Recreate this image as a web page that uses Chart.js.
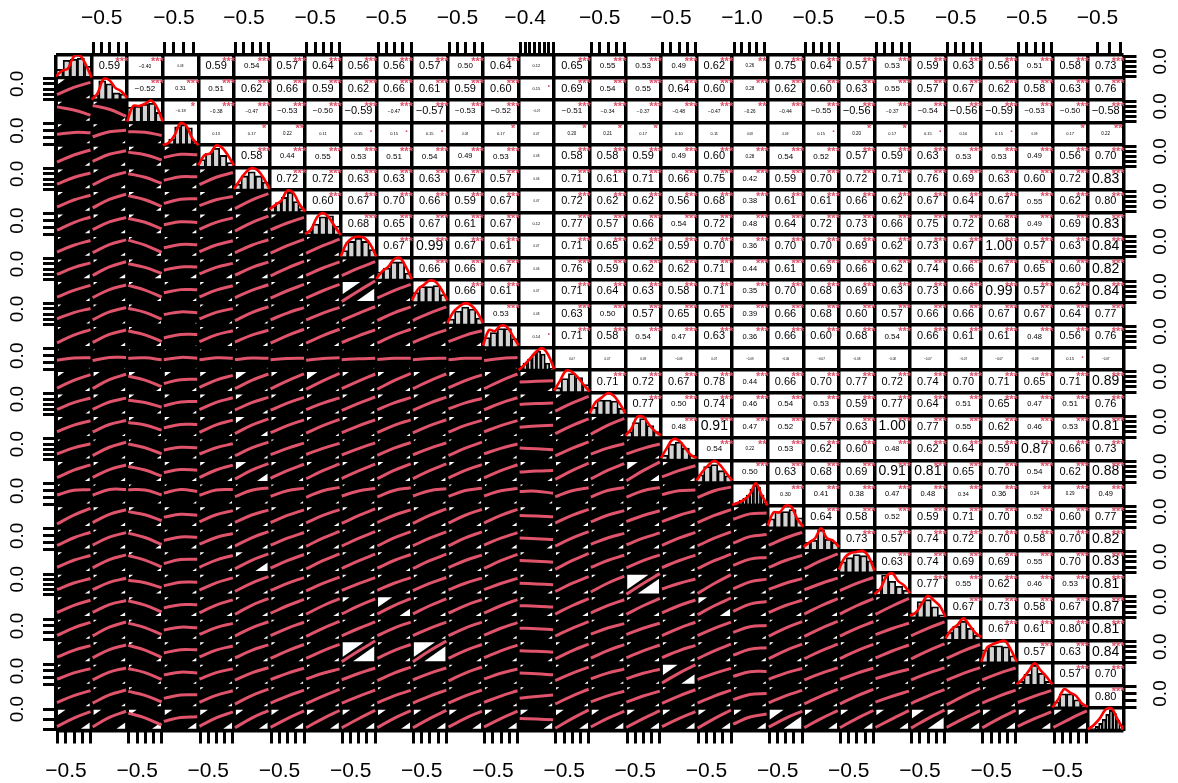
<!DOCTYPE html>
<html lang="en">
<head>
    <meta charset="UTF-8">
    <title>Correlation matrix</title>
    <script src="https://cdn.jsdelivr.net/npm/chart.js"></script>
    <style>
        html, body { margin: 0; background: #fff; }
        canvas { display: block; filter: blur(.3px); }
    </style>
</head>
<body>
    <canvas id="pairs" width="1178" height="783"></canvas>

    <script>
        const varCount = 30;

        // correlations read off the upper triangle, row by row (first value is the cell right of the diagonal)
        // the tiniest ones are unreadable in the picture, so those are estimates
        const corrRows = [
            [.59,-.40,.08,.59,.54,.57,.64,.56,.56,.57,.50,.64,.12,.65,.55,.53,.49,.62,.26,.75,.64,.57,.53,.59,.63,.56,.51,.58,.73],
            [-.52,.31,.51,.62,.66,.59,.62,.66,.61,.59,.60,.15,.69,.54,.55,.64,.60,.28,.62,.60,.63,.55,.57,.67,.62,.58,.63,.76],
            [-.18,-.38,-.47,-.53,-.50,-.59,-.47,-.57,-.53,-.52,-.07,-.51,-.34,-.37,-.48,-.47,-.26,-.44,-.55,-.56,-.37,-.54,-.56,-.59,-.53,-.50,-.58],
            [.13,.17,.22,.11,.15,.15,.15,.08,.17,.07,.20,.21,.17,.10,.11,.08,.09,.15,.20,.17,.15,.10,.15,.09,.17,.22],
            [.58,.44,.55,.53,.51,.54,.49,.53,.08,.58,.58,.59,.49,.60,.28,.54,.52,.57,.59,.63,.53,.53,.49,.56,.70],
            [.72,.72,.63,.63,.63,.67,.57,.06,.71,.61,.71,.66,.75,.42,.59,.70,.72,.71,.76,.69,.63,.60,.72,.83],
            [.60,.67,.70,.66,.59,.67,.07,.72,.62,.62,.56,.68,.38,.61,.61,.66,.62,.67,.64,.67,.55,.62,.80],
            [.68,.65,.67,.61,.67,.12,.77,.57,.66,.54,.72,.48,.64,.72,.73,.66,.75,.72,.68,.49,.69,.83],
            [.67,.99,.67,.61,.07,.71,.65,.62,.59,.70,.36,.70,.70,.69,.62,.73,.67,1.00,.57,.63,.84],
            [.66,.66,.67,.06,.76,.59,.62,.62,.71,.44,.61,.69,.66,.62,.74,.66,.67,.65,.60,.82],
            [.66,.61,.07,.71,.64,.63,.58,.71,.35,.70,.68,.69,.63,.73,.66,.99,.57,.62,.84],
            [.53,.08,.63,.50,.57,.65,.65,.39,.66,.68,.60,.57,.66,.66,.67,.67,.64,.77],
            [.14,.71,.58,.54,.47,.63,.36,.66,.60,.68,.54,.66,.61,.61,.48,.56,.76],
            [.07,.07,.09,-.09,.07,-.09,-.06,-.07,-.08,-.08,-.07,-.07,-.07,-.09,.15,-.07],
            [.71,.72,.67,.78,.44,.66,.70,.77,.72,.74,.70,.71,.65,.71,.89],
            [.77,.50,.74,.46,.54,.53,.59,.77,.64,.51,.65,.47,.51,.76],
            [.48,.91,.47,.52,.57,.63,1.00,.77,.55,.62,.46,.53,.81],
            [.54,.22,.53,.62,.60,.48,.62,.64,.59,.87,.66,.73],
            [.50,.63,.68,.69,.91,.81,.65,.70,.54,.62,.88],
            [.30,.41,.38,.47,.48,.34,.36,.24,.29,.49],
            [.64,.58,.52,.59,.71,.70,.52,.60,.77],
            [.73,.57,.74,.72,.70,.58,.70,.82],
            [.63,.74,.69,.69,.55,.70,.83],
            [.77,.55,.62,.46,.53,.81],
            [.67,.73,.58,.67,.87],
            [.67,.61,.80,.81],
            [.57,.63,.84],
            [.57,.70],
            [.80]
        ];

        // histogram bar heights on the diagonal, share of the cell height
        const histHeights = [
            [.4,.85,.9,.95,.55], [.25,.95,.8,.35,.3], [.75,.8,.9,.95,.5], [.05,.3,.9,1,.85,.2],
            [.4,.7,.95,.6,.25], [.3,.7,.9,.7,.4], [.3,.5,.75,1,.55,.2], [.2,.55,.9,.95,.45],
            [.35,.8,.95,.8,.4], [.4,.6,.9,.9,.35], [.5,.8,.8,.85,.4], [.3,.7,.9,.8,.35],
            [.5,.75,.95,.95,.45], [.2,.35,.55,.8,.95,.8,.35,.1], [.25,.7,.95,.75,.4], [.4,.75,.75,.7,.35],
            [.3,.75,.95,.6,.3], [.25,.8,.9,.6,.25], [.4,.8,.9,.6,.35],
            [.1,.15,.25,.35,.5,.8,1,.9,.5,.1],
            [.45,.8,.8,.9,.5], [.4,.5,1,.55,.4], [.55,.75,.9,.85,.6], [.3,1,.7,.45,.25],
            [.25,.8,.9,.55,.15], [.4,.7,.95,.6,.25], [.65,.85,.85,.8,.35], [.2,.55,1,.6,.2],
            [.3,.7,.7,.4,.15], [.05,.1,.2,.35,.55,.8,1,.85,.5,.1]
        ];

        // density curve height at 7 even steps over the cell
        const densityCurves = [
            [.05,.3,.4,.95,1,.6,0], [.02,.3,.95,.9,.55,.4,.1], [.05,.75,.75,.85,1,.7,.05], [0,.1,.45,1,.85,.3,0],
            [.1,.55,.65,1,.9,.55,.1], [.05,.45,.8,1,.9,.55,.05], [.15,.35,.55,1,.9,.4,.05], [.05,.25,.8,1,.8,.4,0],
            [.05,.65,.9,.95,.9,.6,.05], [.05,.4,.6,.95,1,.6,.05], [.1,.6,.8,1,.95,.6,.1], [.1,.6,.85,1,.9,.6,.1],
            [.1,.8,.75,1,.95,.55,.1], [0,.25,.55,.85,1,.7,.05], [.1,.55,1,.95,.7,.35,.05], [.1,.6,.8,1,.9,.55,.1],
            [.1,.4,.95,.95,.6,.3,.1], [.1,.55,.95,.9,.6,.25,.1], [.1,.5,.8,1,.8,.45,.1],
            [.02,.12,.25,.5,1,.45,0],
            [.1,.7,.7,1,.95,.4,.05], [.15,.35,.55,1,.55,.45,.15], [.15,.7,.9,.95,1,.75,.1], [.05,.3,.85,1,.65,.45,.1],
            [.1,.25,.65,1,.8,.55,.05], [.1,.5,.7,1,.7,.35,.15], [.05,.7,.85,.95,1,.6,.05], [.05,.3,.65,1,.7,.4,.05],
            [.02,.4,.85,.7,.55,.2,.05], [.05,.25,.55,.95,1,.5,.05]
        ];

        // how far the smoother bows upward in the middle of a cell, estimated by column and by row.
        // the smoothers are not traced one by one: their ends follow the r of the cell, the bow comes from these
        const colBend = [.04,.07,.05,.07,.05,.04,.02,.02,.01,.03,.02,.03,.02,.0,.02,.03,.02,.02,.02,.09,.03,.02,.02,.01,.02,.02,.02,.02,.01,.01];
        const rowBend = [0,.02,.02,.02,.02,.02,.02,.02,.01,.02,.01,.02,.02,.0,.01,.02,.02,.01,.02,.13,.03,.02,.02,.01,.02,.02,.02,.02,.01,.01];

        // the scatter clouds saturate to solid black, so each is drawn as a black cell with
        // white corner triangles: usual corner size per row, then the cells that visibly differ
        const topLeftByRow = [0,.2,.12,.12,.15,.15,.15,.15,.1,.12,.12,.1,.1,.05,.18,.15,.15,.08,.15,.08,.15,.1,.12,.12,.12,.1,.12,.1,.1,.22];
        const bottomRightByRow = [0,.12,.12,.1,.14,.14,.14,.14,.14,.18,.12,.1,.14,.04,.14,.12,.1,.12,.14,.1,.14,.16,.12,.14,.16,.12,.14,.1,.12,.25];
        const bigCorners = [
            // row, col, top-left size, bottom-right size
            [10,8,.5,.5], [26,8,.6,.6], [26,10,.6,.6], [23,16,.6,.6], [27,17,.42,.38],
            [14,5,.3,.1], [14,7,.3,.1], [24,9,.4,.3], [24,8,.2,.15], [18,16,.3,.25],
            [24,18,.25,.3], [29,20,.4,.5], [29,24,.35,.45], [22,5,.2,.35], [16,5,.25,.2],
            [15,5,.2,.15], [18,5,.3,.3], [11,3,.02,.05], [12,3,.02,.04]
        ];

        // axis furniture: columns and rows carrying ticks, number of ticks, labelled tick
        const topTickCols = [1,3,5,7,9,11,13,15,17,19,21,23,25,27,29];
        const topTickCounts = [5,4,5,5,5,5,8,5,5,5,5,5,5,5,3];
        const topTickStart = [.05,.04,.05,.05,.05,.05,.05,.05,.05,.07,.05,.05,.05,.05,.27];
        const topTickEnd = [.98,.86,.98,.98,.98,.98,.98,.98,.98,.9,.98,.98,.98,.98,.92];
        const topLabels = ['−0.5','−0.5','−0.5','−0.5','−0.5','−0.5','−0.4','−0.5','−0.5','−1.0','−0.5','−0.5','−0.5','−0.5','−0.5'];
        const bottomTickCols = [0,2,4,6,8,10,12,14,16,18,20,22,24,26,28];
        const leftTickRows = [1,3,5,7,9,11,13,15,17,19,21,23,25,27,29];
        const leftTickCounts = [5,4,5,4,5,5,4,5,5,4,4,5,4,4,3];
        const rightTickRows = [0,2,4,6,8,10,12,14,16,18,20,22,24,26,28];
        const rightTickCounts = [5,5,5,5,5,5,5,5,5,5,5,5,5,5,4];

        const cellW = 35.58;
        const fontFamily = '"Liberation Sans", Arial, sans-serif';
        const starColor = '#DF536B';

        function cellCorr(row, col) {
            return row < col ? corrRows[row][col - row - 1] : corrRows[col][row - col - 1];
        }

        function spread(base, count, start, end) {
            const out = [];
            for (let i = 0; i < count; i++) {
                out.push(base + start + (end - start) * i / Math.max(count - 1, 1));
            }
            return out;
        }

        function tickList(cells, counts, starts, ends) {
            let list = [];
            cells.forEach((cell, i) => {
                list = list.concat(spread(cell, counts[i], starts ? starts[i] : .05, ends ? ends[i] : .97));
            });
            return list;
        }

        // which tick gets the label: second in a group, first for the narrow last column
        function labelledTicks(cells, counts, starts, ends, labels) {
            const map = new Map();
            cells.forEach((cell, i) => {
                const ticks = spread(cell, counts[i], starts ? starts[i] : .05, ends ? ends[i] : .97);
                map.set(ticks[counts[i] < 4 ? 0 : 1].toFixed(4), labels[i]);
            });
            return map;
        }

        const datasets = [];

        // black lower triangle
        const blackCells = [];
        for (let r = 1; r < varCount; r++) {
            for (let c = 0; c < r; c++) {
                blackCells.push({ x: c + .5, y: [r, r + 1] });
            }
        }
        datasets.push({
            type: 'bar', data: blackCells, backgroundColor: '#000', borderWidth: 0,
            barThickness: cellW + 1, grouped: false, order: 50
        });

        // white corners and smoothers, one dataset per row with gaps between cells
        const gap = { x: null, y: null };
        for (let r = 1; r < varCount; r++) {
            const tl = [], br = [], smooth = [];
            for (let c = 0; c < r; c++) {
                const big = bigCorners.find(b => b[0] === r && b[1] === c);
                const a = big ? big[2] : topLeftByRow[r];
                const b = big ? big[3] : bottomRightByRow[r];
                tl.push({ x: c + .05, y: r + .08 + a * 1.1 }, { x: c + .05 + a, y: r + .08 }, gap);
                br.push({ x: c + .95 - b, y: r + .92 }, { x: c + .95, y: r + .92 - b * 1.1 }, gap);

                const v = cellCorr(r, c);
                const yLeft = .5 + v * .46, yRight = .5 - v * .46;
                const yMid = .5 - colBend[c] - rowBend[r];
                smooth.push({ x: c + .03, y: r + yLeft - rowBend[r] * .6 },
                    { x: c + .5, y: r + yMid },
                    { x: c + .97, y: r + yRight - rowBend[r] * .6 }, gap);
            }
            datasets.push({ data: tl, borderWidth: 0, pointRadius: 0, backgroundColor: '#fff', fill: { target: { value: r + .08 } }, order: 40 });
            datasets.push({ data: br, borderWidth: 0, pointRadius: 0, backgroundColor: '#fff', fill: { target: { value: r + .92 } }, order: 40 });
            datasets.push({ data: smooth, borderColor: starColor, borderWidth: 3, pointRadius: 0, tension: .4, fill: false, order: 20 });
        }

        // diagonal: histogram plus density
        histHeights.forEach((bars, i) => {
            datasets.push({
                type: 'bar',
                data: bars.map((h, k) => ({ x: i + (k + .5) / bars.length, y: [i + 1, i + 1 - h * .9] })),
                backgroundColor: '#D3D3D3', borderColor: '#000', borderWidth: 1.8, borderSkipped: false,
                barThickness: cellW / bars.length, grouped: false, order: 30
            });
        });
        densityCurves.forEach((curve, i) => {
            datasets.push({
                data: curve.map((h, k) => ({ x: i + k / (curve.length - 1), y: i + 1 - h * .98 })),
                borderColor: '#FF0000', borderWidth: 2.6, pointRadius: 0, tension: .35, fill: false, order: 10
            });
        });

        // numbers and stars in the upper triangle
        function corrFont(v) {
            const a = Math.abs(v);
            if (a >= .805) return 14;
            if (a >= .56) return 11;
            if (a >= .5) return 8;
            if (a >= .35) return v < 0 ? 5 : 7.5;
            if (a >= .3) return 5.5;
            if (a >= .2) return 4.5;
            if (a >= .1) return 4;
            return 3;
        }
        function corrStars(v) {
            const a = Math.abs(v);
            if (a >= .28) return '***';
            if (a >= .22) return '**';
            if (a >= .17) return '*';
            if (a >= .14) return '.';
            return '';
        }
        const corrText = {
            id: 'corrText',
            afterDatasetsDraw(chart) {
                const { ctx, scales } = chart;
                ctx.save();
                ctx.textAlign = 'center';
                ctx.textBaseline = 'middle';
                corrRows.forEach((values, r) => {
                    values.forEach((v, k) => {
                        const c = r + k + 1;
                        const px = scales.x.getPixelForValue(c + .5);
                        const py = scales.y.getPixelForValue(r + .5);
                        ctx.fillStyle = '#000';
                        ctx.font = corrFont(v) + 'px ' + fontFamily;
                        ctx.fillText(v.toFixed(2).replace('-', '−'), px, py);
                        const stars = corrStars(v);
                        if (stars) {
                            ctx.fillStyle = starColor;
                            ctx.font = 'bold 11px ' + fontFamily;
                            ctx.fillText(stars, scales.x.getPixelForValue(c + .85), scales.y.getPixelForValue(r + .3));
                        }
                    });
                });
                ctx.restore();
            }
        };

        function tickAxis(position, axis, ticks, labels, size, extra) {
            return Object.assign({
                type: 'linear', axis, position, min: 0, max: varCount, reverse: axis === 'y', offset: false,
                border: { display: false },
                grid: { drawOnChartArea: false, offset: false, tickLength: 13, tickWidth: 3, tickColor: '#000' },
                afterBuildTicks(scale) { scale.ticks = ticks.map(value => ({ value })); },
                afterFit(scale) {
                    if (axis === 'x') scale.height = size; else scale.width = size;
                }
            }, extra(labels));
        }
        function labelCallback(labels) {
            return value => labels.get(value.toFixed(4)) || '';
        }
        function xTickOpts(padding) {
            return labels => ({
                ticks: {
                    autoSkip: false, minRotation: 0, maxRotation: 0, padding, color: '#000',
                    font: { size: 21, family: fontFamily }, callback: labelCallback(labels)
                }
            });
        }
        function yTickOpts(padding) {
            return labels => ({
                ticks: {
                    autoSkip: false, minRotation: 90, maxRotation: 90, padding, crossAlign: 'center', color: '#000',
                    font: { size: 19, family: fontFamily }, callback: labelCallback(labels)
                }
            });
        }

        const bottomCounts = bottomTickCols.map(() => 5);
        const chart = new Chart(document.getElementById('pairs'), {
            type: 'line',
            data: { datasets },
            plugins: [corrText],
            options: {
                responsive: false,
                animation: false,
                events: [],
                layout: { padding: 0 },
                plugins: { legend: { display: false }, tooltip: { enabled: false }, title: { display: false } },
                scales: {
                    // cell borders
                    x: {
                        type: 'linear', axis: 'x', position: 'bottom', min: 0, max: varCount, offset: false,
                        ticks: { display: false, stepSize: 1 },
                        border: { display: false },
                        grid: { offset: false, color: '#000', lineWidth: 3.5, drawTicks: false },
                        afterFit(scale) { scale.height = 0; }
                    },
                    y: {
                        type: 'linear', axis: 'y', position: 'left', min: 0, max: varCount, reverse: true, offset: false,
                        ticks: { display: false, stepSize: 1 },
                        border: { display: false },
                        grid: { offset: false, color: '#000', lineWidth: 3.5, drawTicks: false },
                        afterFit(scale) { scale.width = 0; }
                    },
                    xTop: tickAxis('top', 'x', tickList(topTickCols, topTickCounts, topTickStart, topTickEnd),
                        labelledTicks(topTickCols, topTickCounts, topTickStart, topTickEnd, topLabels), 55, xTickOpts(11)),
                    xBottom: tickAxis('bottom', 'x', tickList(bottomTickCols, bottomCounts),
                        labelledTicks(bottomTickCols, bottomCounts, null, null, bottomTickCols.map(() => '−0.5')), 52.5, xTickOpts(15)),
                    yLeft: tickAxis('left', 'y', tickList(leftTickRows, leftTickCounts),
                        labelledTicks(leftTickRows, leftTickCounts, null, null, leftTickRows.map(() => '0.0')), 56, yTickOpts(12)),
                    yRight: tickAxis('right', 'y', tickList(rightTickRows, rightTickCounts),
                        labelledTicks(rightTickRows, rightTickCounts, null, null, rightTickRows.map(() => '0.0')), 54.5, yTickOpts(11))
                }
            }
        });
    </script>
</body>
</html>
